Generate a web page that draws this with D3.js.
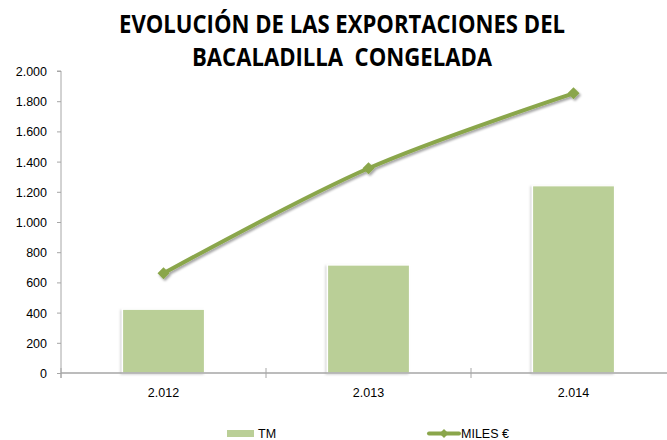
<!DOCTYPE html>
<html><head><meta charset="utf-8">
<script src="https://cdn.jsdelivr.net/npm/d3@7"></script>
<style>body{margin:0;background:#fff}svg{display:block}</style>
</head><body>
<svg id="c" width="667" height="440"></svg>
<script>
const categories = ["2.012", "2.013", "2.014"];
const tmValues = [422, 715, 1240];
const milesValues = [660, 1356, 1852];
const yTicks = [0, 200, 400, 600, 800, 1000, 1200, 1400, 1600, 1800, 2000];
const titleLines = ["EVOLUCIÓN DE LAS EXPORTACIONES DEL", "BACALADILLA  CONGELADA"];
const seriesNames = ["TM", "MILES €"];

(function(){
const svg = d3.select("#c");
const W = 667, H = 440;
const pLeft = 61, pRight = 676, pTop = 71, pBottom = 373;
const barColor = "#bacf97", lineColor = "#8aa64b", axisColor = "#a6a6a6";

const defs = svg.append("defs");
const f = defs.append("filter").attr("id","sh").attr("x","-20%").attr("y","-20%").attr("width","140%").attr("height","140%");
f.append("feDropShadow").attr("dx",1.5).attr("dy",2).attr("stdDeviation",1.2).attr("flood-color","#000").attr("flood-opacity",0.35);
const fb = defs.append("filter").attr("id","shb").attr("x","-10%").attr("y","-10%").attr("width","120%").attr("height","120%");
fb.append("feDropShadow").attr("dx",-1.5).attr("dy",1).attr("stdDeviation",1).attr("flood-color","#000").attr("flood-opacity",0.18);

const x = d3.scaleBand().domain(categories).range([pLeft, pRight]).paddingInner(0.6).paddingOuter(0.3);
const y = d3.scaleLinear().domain([0, 2000]).range([pBottom, pTop]);

// title
svg.append("g").selectAll("text").data(titleLines).join("text")
  .attr("x", 342).attr("y", (d,i)=> 33 + i*33)
  .attr("text-anchor","middle")
  .style("white-space","pre")
  .attr("font-family","'Open Sans', sans-serif").attr("font-weight","bold")
  .attr("font-size", 25).attr("fill","#000")
  .attr("textLength", (d,i)=> i===0 ? 446 : 300).attr("lengthAdjust","spacingAndGlyphs")
  .text(d=>d);

// bars
svg.append("g").selectAll("rect").data(tmValues).join("rect")
  .attr("x",(d,i)=>x(categories[i])).attr("width",x.bandwidth())
  .attr("y",d=>y(d)).attr("height",d=>y(0)-y(d))
  .attr("fill",barColor).attr("stroke","#fff").attr("stroke-width",1.2)
  .attr("filter","url(#shb)");

// y axis
const yAxis = d3.axisLeft(y).tickValues(yTicks).tickSize(4).tickPadding(10)
  .tickFormat(d => d3.format(",")(d).replace(/,/g,"."));
const ya = svg.append("g").attr("transform",`translate(${pLeft},0)`).call(yAxis);
ya.select(".domain").attr("stroke",axisColor).attr("d",`M-4,${pTop}H0V${pBottom+5}`);
ya.selectAll(".tick line").attr("stroke",axisColor);
ya.selectAll(".tick text").attr("font-family","'Liberation Sans', Arial, sans-serif").attr("font-size",12.5).attr("fill","#000").attr("dy","0.36em").attr("x",-14);

// x axis
const xa = svg.append("g").attr("transform",`translate(0,${pBottom})`);
xa.append("line").attr("x1",pLeft).attr("x2",W).attr("y1",0).attr("y2",0).attr("stroke",axisColor).attr("stroke-width",1.3);
const bpos = [pLeft].concat(categories.slice(1).map(c=> x(c) - (x.step()-x.bandwidth())/2));
xa.selectAll("line.tk").data(bpos).join("line").attr("class","tk")
  .attr("x1",d=>d).attr("x2",d=>d).attr("y1",-5).attr("y2",5).attr("stroke",axisColor);
xa.selectAll("text").data(categories).join("text")
  .attr("x",d=>x(d)+x.bandwidth()/2).attr("y",24)
  .attr("text-anchor","middle").attr("font-family","'Liberation Sans', Arial, sans-serif").attr("font-size",12.5).attr("fill","#000")
  .text(d=>d);

// line
const cx = (i)=> x(categories[i]) + x.bandwidth()/2;
const line = d3.line().x((d,i)=>cx(i)).y(d=>y(d)).curve(d3.curveCatmullRom.alpha(0.5));
const lg = svg.append("g").attr("filter","url(#sh)");
lg.append("path").datum(milesValues).attr("d",line).attr("fill","none").attr("stroke",lineColor).attr("stroke-width",4).attr("stroke-linecap","round");
lg.selectAll("path.m").data(milesValues).join("path").attr("class","m")
  .attr("d", d3.symbol().type(d3.symbolSquare).size(72))
  .attr("transform",(d,i)=>`translate(${cx(i)},${y(d)}) rotate(45)`)
  .attr("fill",lineColor);

// legend
const lgd = svg.append("g");
lgd.append("rect").attr("x",227).attr("y",430).attr("width",27).attr("height",7).attr("fill",barColor);
lgd.append("text").attr("x",258).attr("y",438).attr("font-family","'Liberation Sans', Arial, sans-serif").attr("font-size",12.5).text(seriesNames[0]);
lgd.append("line").attr("x1",429).attr("x2",459).attr("y1",433.5).attr("y2",433.5).attr("stroke",lineColor).attr("stroke-width",4).attr("stroke-linecap","round");
lgd.append("path").attr("d",d3.symbol().type(d3.symbolSquare).size(40)).attr("transform","translate(444,433.5) rotate(45)").attr("fill",lineColor);
lgd.append("text").attr("x",461).attr("y",438).attr("font-family","'Liberation Sans', Arial, sans-serif").attr("font-size",12.5).text(seriesNames[1]);
})();
</script>
</body></html>
